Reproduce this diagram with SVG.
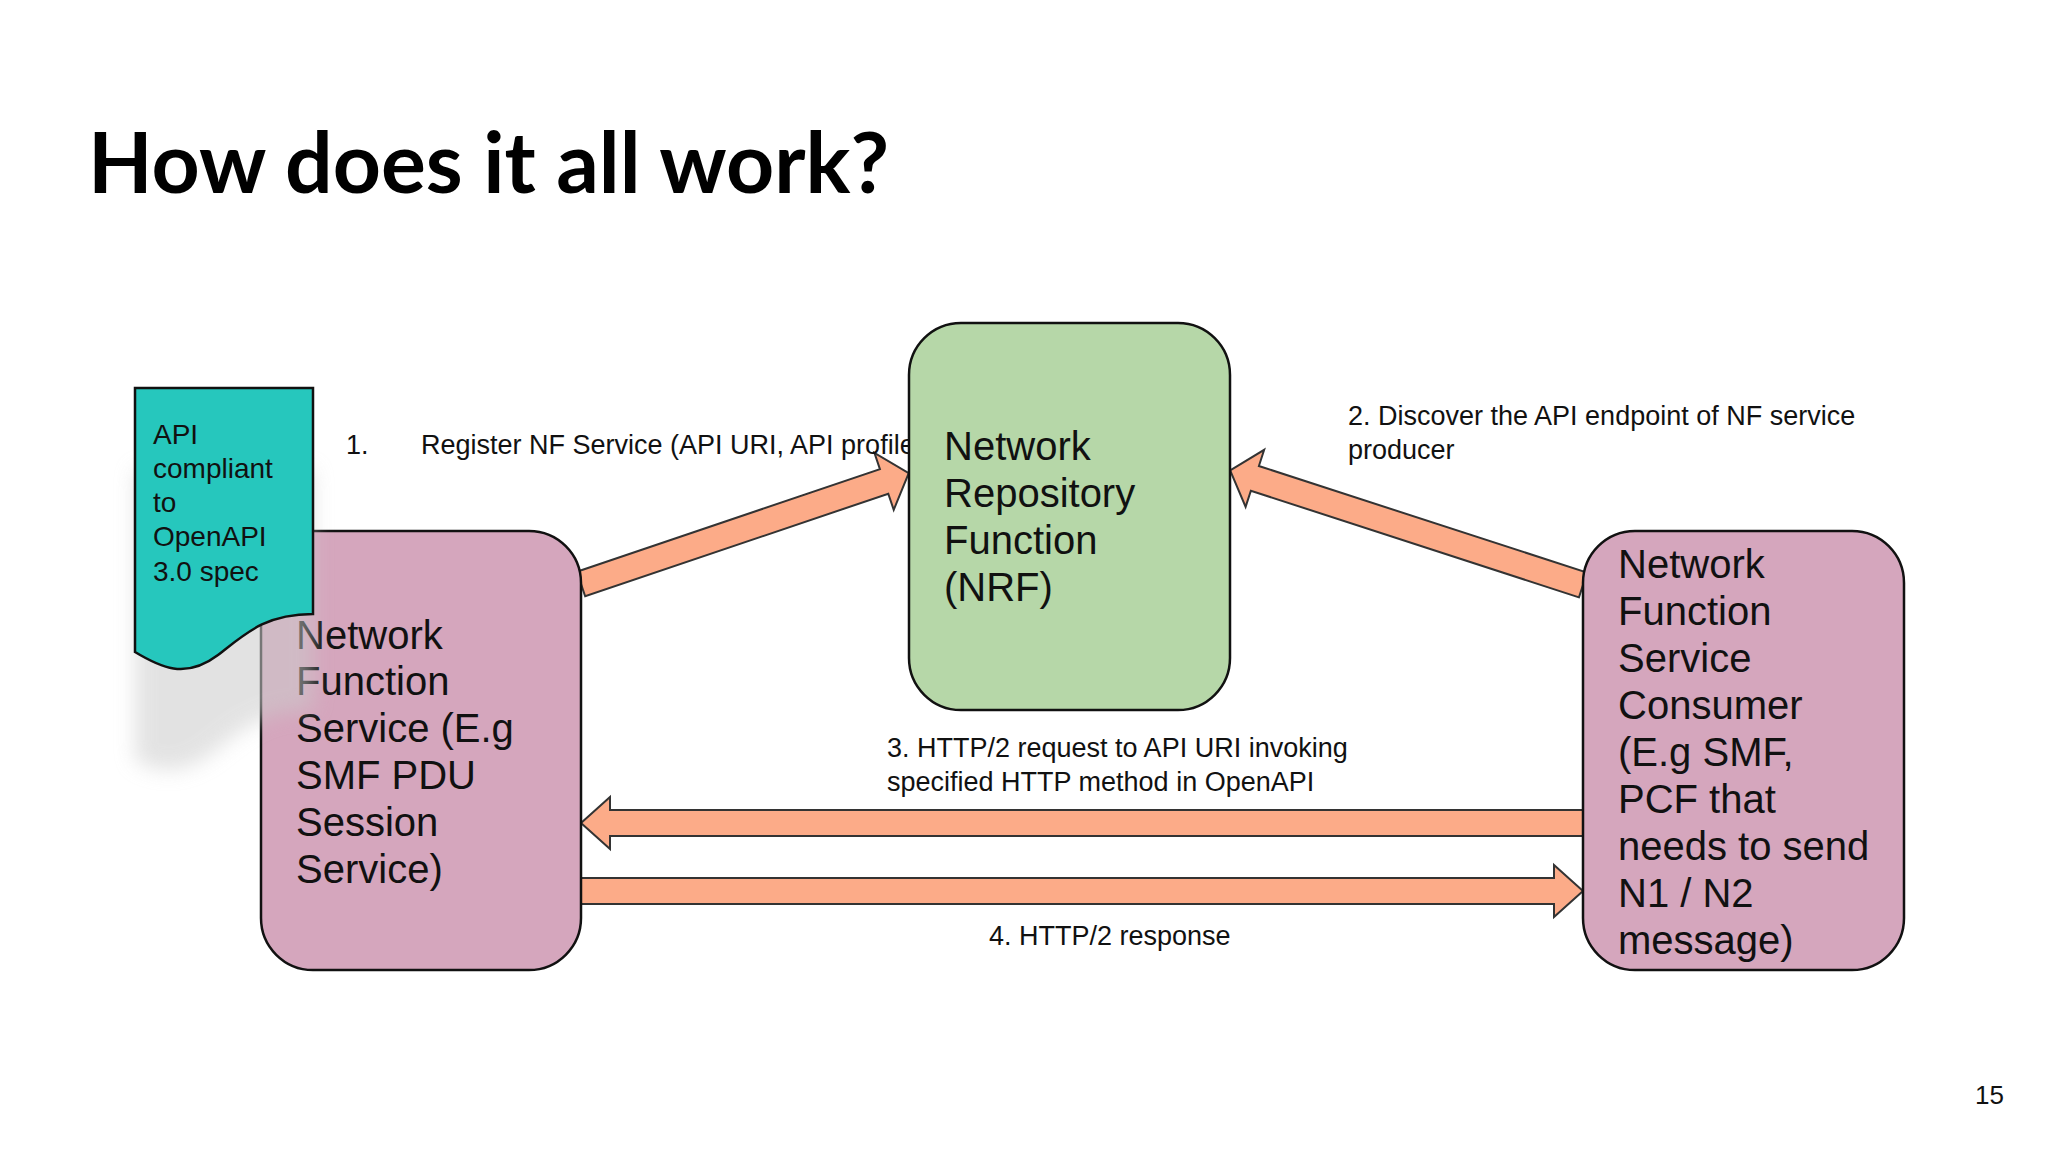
<svg xmlns="http://www.w3.org/2000/svg" width="2048" height="1152" viewBox="0 0 2048 1152">
<defs>
<style>
.t{font-family:"Liberation Sans",Arial,sans-serif;fill:#111}
.node{stroke:#111;stroke-width:2.5}
.arr{fill:#fcab88;stroke:#333;stroke-width:2}
.lbl{font-size:27px}
.big{font-size:40px}
</style>
<filter id="blur" x="-30%" y="-30%" width="160%" height="160%"><feGaussianBlur stdDeviation="10"/></filter>
</defs>
<rect width="2048" height="1152" fill="#fff"/>
<text x="88" y="193" font-family="Lato,'Open Sans',sans-serif" font-weight="bold" font-size="84" fill="#000">How does it all work?</text>
<g id="connectors">
<polygon class="arr" transform="translate(581,584) rotate(-18.7)" points="0,-13 320,-13 320,-30 346,0 320,30 320,13 0,13"/>
<polygon class="arr" transform="translate(1583,585) rotate(-162)" points="0,-13 345,-13 345,-30 371,0 345,30 345,13 0,13"/>
<polygon class="arr" points="1583,810 610,810 610,797 581,823 610,849 610,836 1583,836"/>
<polygon class="arr" points="581,878 1554,878 1554,865 1583,891 1554,917 1554,904 581,904"/>
<text class="t lbl" x="346" y="454">1.</text>
<text class="t lbl" x="421" y="454">Register NF Service (API URI, API profile)</text>
<text class="t lbl" x="1348" y="425">2. Discover the API endpoint of NF service</text>
<text class="t lbl" x="1348" y="459">producer</text>
<text class="t lbl" x="887" y="757">3. HTTP/2 request to API URI invoking</text>
<text class="t lbl" x="887" y="791">specified HTTP method in OpenAPI</text>
<text class="t lbl" x="989" y="945">4. HTTP/2 response</text>
</g>
<g id="nrf">
<rect class="node" x="909" y="323" width="321" height="387" rx="52" fill="#b6d7a8"/>
<text class="t big" x="944" y="460">Network</text>
<text class="t big" x="944" y="507">Repository</text>
<text class="t big" x="944" y="554">Function</text>
<text class="t big" x="944" y="601">(NRF)</text>
</g>
<g id="producer">
<rect class="node" x="261" y="531" width="320" height="439" rx="52" fill="#d5a6bd"/>
<text class="t big" x="296" y="649">Network</text>
<text class="t big" x="296" y="695">Function</text>
<text class="t big" x="296" y="742">Service (E.g</text>
<text class="t big" x="296" y="789">SMF PDU</text>
<text class="t big" x="296" y="836">Session</text>
<text class="t big" x="296" y="883">Service)</text>
</g>
<g id="consumer">
<rect class="node" x="1583" y="531" width="321" height="439" rx="52" fill="#d5a6bd"/>
<text class="t big" x="1618" y="578">Network</text>
<text class="t big" x="1618" y="625">Function</text>
<text class="t big" x="1618" y="672">Service</text>
<text class="t big" x="1618" y="719">Consumer</text>
<text class="t big" x="1618" y="766">(E.g SMF,</text>
<text class="t big" x="1618" y="813">PCF that</text>
<text class="t big" x="1618" y="860">needs to send</text>
<text class="t big" x="1618" y="907">N1 / N2</text>
<text class="t big" x="1618" y="954">message)</text>
</g>
<g id="apidoc">
<path d="M135,470 L313,470 L313,710 C265,710 240,730 210,755 C175,778 155,770 135,760 Z" fill="#ccc" opacity="0.55" filter="url(#blur)"/>
<path d="M135,388 L313,388 L313,614 C265,614 245,634 218,655 C185,680 160,667 135,652 Z" fill="#26c7bd" stroke="#111" stroke-width="2.5"/>
<text class="t" font-size="28" x="153" y="444">API</text>
<text class="t" font-size="28" x="153" y="478">compliant</text>
<text class="t" font-size="28" x="153" y="512">to</text>
<text class="t" font-size="28" x="153" y="546">OpenAPI</text>
<text class="t" font-size="28" x="153" y="581">3.0 spec</text>
</g>
<text class="t" x="1975" y="1104" font-family="'Open Sans',sans-serif" font-size="26">15</text>
</svg>
